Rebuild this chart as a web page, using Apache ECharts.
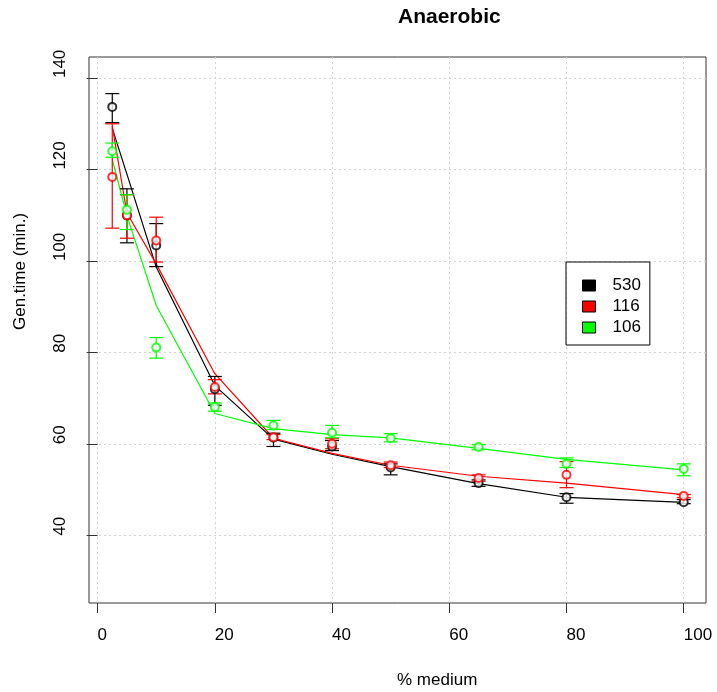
<!DOCTYPE html>
<html>
<head>
<meta charset="utf-8">
<script src="https://cdn.jsdelivr.net/npm/echarts@6/dist/echarts.min.js"></script>
<style>
  html, body { margin: 0; padding: 0; background: #fff; }
  #chart { width: 717px; height: 692px; }
</style>
</head>
<body>
<div id="chart"></div>
<script>
// % medium
const xValues = [2.5, 5, 10, 20, 30, 40, 50, 65, 80, 100]
const xTicks = [0, 20, 40, 60, 80, 100]
const yTicks = [40, 60, 80, 100, 120, 140]

// fitted curves
const fit530 = [129.0, 119.0, 98.7, 72.8, 61.1, 57.8, 55.1, 51.4, 48.4, 47.3]
const fit116 = [129.5, 110.5, 99.4, 75.4, 61.3, 58.0, 55.4, 53.0, 51.5, 49.0]
const fit106 = [122.2, 110.0, 90.3, 66.7, 63.4, 62.1, 61.4, 59.1, 56.7, 54.4]

// observed means and error bar ends
const mean530 = [133.7, 110.0, 103.4, 72.0, 61.4, 59.5, 54.9, 51.5, 48.4, 47.3]
const low530 = [130.25, 104.0, 98.8, 68.5, 59.5, 58.6, 53.3, 50.8, 47.1, 47.0]
const high530 = [136.6, 115.8, 108.2, 74.8, 62.4, 60.8, 55.7, 52.2, 49.2, 47.9]

const mean116 = [118.4, 110.0, 104.5, 72.5, 61.5, 60.1, 55.4, 52.6, 53.3, 48.7]
const low116 = [107.2, 105.0, 99.8, 71.0, 61.0, 59.0, 54.9, 51.9, 50.5, 48.3]
const high116 = [130.0, 114.5, 109.6, 74.1, 62.1, 61.2, 56.1, 53.3, 56.2, 49.0]

const mean106 = [124.0, 111.2, 81.1, 68.1, 64.1, 62.5, 61.3, 59.4, 55.7, 54.6]
const low106 = [122.7, 106.9, 78.8, 67.2, 63.2, 61.4, 60.5, 58.8, 54.9, 53.1]
const high106 = [125.8, 114.5, 83.3, 69.0, 65.2, 64.1, 62.3, 59.9, 57.0, 55.7]

const FONT = "'Liberation Sans', Arial, sans-serif"

function pairs (ys) {
  return xValues.map((x, i) => [x, ys[i]])
}

function errorBars (low, high) {
  return xValues.map((x, i) => [x, low[i], high[i]])
}

function makeGroup (name, color, fit, mean, low, high) {
  return [
    {
      name: name,
      type: 'line',
      data: pairs(fit),
      showSymbol: false,
      symbol: 'none',
      lineStyle: { color: color, width: 1.2 },
      z: 2
    },
    {
      name: name,
      type: 'custom',
      data: errorBars(low, high),
      renderItem: function (params, api) {
        const lo = api.coord([api.value(0), api.value(1)])
        const hi = api.coord([api.value(0), api.value(2)])
        const w = 7
        const style = { stroke: color, lineWidth: 1.2 }
        return {
          type: 'group',
          children: [
            { type: 'line', shape: { x1: lo[0], y1: lo[1], x2: hi[0], y2: hi[1] }, style: style },
            { type: 'line', shape: { x1: lo[0] - w, y1: lo[1], x2: lo[0] + w, y2: lo[1] }, style: style },
            { type: 'line', shape: { x1: hi[0] - w, y1: hi[1], x2: hi[0] + w, y2: hi[1] }, style: style }
          ]
        }
      },
      z: 3
    },
    {
      name: name,
      type: 'scatter',
      data: pairs(mean),
      symbol: 'emptyCircle',
      symbolSize: 8,
      itemStyle: { color: color, borderColor: color, borderWidth: 1 },
      z: 4
    }
  ]
}

const chart = echarts.init(document.getElementById('chart'))
chart.setOption({
  animation: false,
  textStyle: { fontFamily: FONT, color: '#000' },
  title: {
    text: 'Anaerobic',
    left: 398,
    top: 7,
    padding: 0,
    textStyle: { fontFamily: FONT, fontSize: 21, fontWeight: 'bold', color: '#000' }
  },
  legend: {
    orient: 'vertical',
    left: 566,
    top: 262,
    padding: [15, 9, 9, 16],
    borderColor: '#000',
    borderWidth: 1,
    itemWidth: 13,
    itemHeight: 11,
    itemGap: 4,
    textStyle: { fontFamily: FONT, fontSize: 17, color: '#000', padding: [0, 0, 0, 12] },
    data: [
      { name: '530', icon: 'rect', itemStyle: { color: '#000000', borderColor: '#000', borderWidth: 1 } },
      { name: '116', icon: 'rect', itemStyle: { color: '#FF0000', borderColor: '#000', borderWidth: 1 } },
      { name: '106', icon: 'rect', itemStyle: { color: '#00FF00', borderColor: '#000', borderWidth: 1 } }
    ]
  },
  grid: {
    left: 89,
    right: 11,
    top: 57,
    bottom: 89,
    show: true,
    borderColor: '#333',
    borderWidth: 1
  },
  xAxis: {
    type: 'value',
    min: -1.47,
    max: 103.8,
    axisLine: { show: false },
    axisTick: { show: true, inside: false, length: 10, customValues: xTicks, lineStyle: { color: '#333' } },
    axisLabel: {
      customValues: xTicks,
      align: 'left',
      margin: 24,
      fontSize: 17,
      fontFamily: FONT,
      color: '#000'
    },
    splitLine: { show: true, lineStyle: { color: '#D3D3D3', type: [2, 3], width: 1 } }
  },
  yAxis: {
    type: 'value',
    min: 25.3,
    max: 144.6,
    axisLine: { show: false },
    axisTick: { show: true, inside: false, length: 11, customValues: yTicks, lineStyle: { color: '#333' } },
    axisLabel: {
      customValues: yTicks,
      rotate: 90,
      align: 'left',
      verticalAlign: 'bottom',
      margin: 20,
      fontSize: 17,
      fontFamily: FONT,
      color: '#000'
    },
    splitLine: { show: true, lineStyle: { color: '#D3D3D3', type: [2, 3], width: 1 } }
  },
  graphic: [
    {
      type: 'text',
      x: 397,
      y: 680,
      style: { text: '% medium', font: '17px ' + FONT, fill: '#000', textAlign: 'left', textVerticalAlign: 'middle' }
    },
    {
      type: 'text',
      x: 20,
      y: 330,
      rotation: Math.PI / 2,
      style: { text: 'Gen.time (min.)', font: '17px ' + FONT, fill: '#000', textAlign: 'left', textVerticalAlign: 'middle' }
    }
  ],
  series: [
    ...makeGroup('530', '#000000', fit530, mean530, low530, high530),
    ...makeGroup('116', '#FF0000', fit116, mean116, low116, high116),
    ...makeGroup('106', '#00FF00', fit106, mean106, low106, high106)
  ]
})
</script>
</body>
</html>
